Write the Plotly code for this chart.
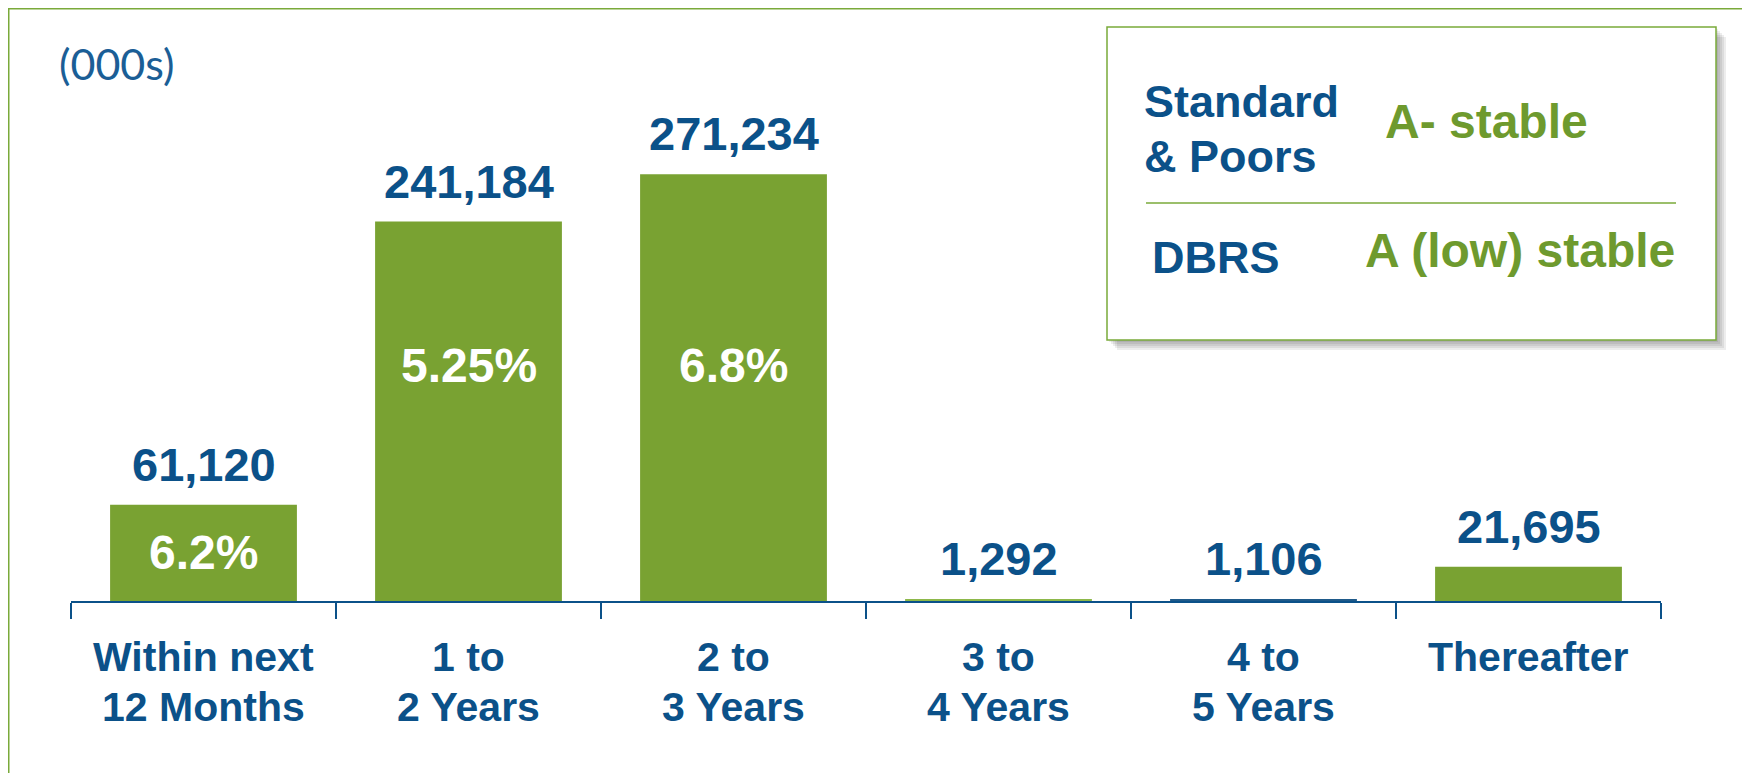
import plotly.graph_objects as go

# ---------------- data ----------------
categories = ["Within next<br>12 Months", "1 to<br>2 Years", "2 to<br>3 Years",
              "3 to<br>4 Years", "4 to<br>5 Years", "Thereafter"]
maturities = [61120, 241184, 271234, 1292, 1106, 21695]
rates = ["6.2%", "5.25%", "6.8%", "", "", ""]
unit_label = "(000s)"
agency_lines = [["Standard", "& Poors"], ["DBRS"]]
ratings = ["A- stable", "A (low) stable"]

# ---------------- style ----------------
BLUE = "#0B5189"
GREEN = "#79A232"
GREEN_TXT = "#6E9A2E"
BORDER = "#7AAA3A"
FONT = "Liberation Sans, Arial"
bar_colors = [GREEN, GREEN, GREEN, "#8DB84A", "#1F5A8A", GREEN]

OFF = 8  # page body margin
W, H = 1742, 765
L, R, T, B = 63, 89, 32, 172
PW = W - L - R
PH = H - T - B


def px(x):  # page pixel x -> paper
    return (x - OFF - L) / PW


def py(y):  # page pixel y -> paper
    return (H - B - (y - OFF)) / PH


fig = go.Figure()
fig.add_trace(go.Bar(
    x=categories, y=maturities, marker=dict(color=bar_colors, line=dict(width=0)),
    hoverinfo="skip", showlegend=False,
))

ann = []
# value labels above bars
for c, v in zip(categories, maturities):
    ann.append(dict(x=c, y=v, xref="x", yref="y", text=f"{v:,}", showarrow=False,
                    yanchor="bottom", yshift=12,
                    font=dict(family=FONT, size=47, color=BLUE, weight="bold")))
# rate labels inside bars
for c, v, r in zip(categories, maturities, rates):
    if r:
        ann.append(dict(x=c, y=(150000 if v > 150000 else v / 2), xref="x", yref="y", text=r,
                        showarrow=False, yanchor="middle",
                        font=dict(family=FONT, size=48, color="white", weight="bold")))
# category labels (two lines each) below the axis
for c in categories:
    for i, line in enumerate(c.split("<br>")):
        ann.append(dict(x=c, y=0, xref="x", yref="y", text=line, showarrow=False,
                        yanchor="middle", yshift=-56 - 50 * i,
                        font=dict(family=FONT, size=41, color=BLUE, weight="bold")))
# unit label
ann.append(dict(x=px(57), y=py(64), xref="paper", yref="paper", text=unit_label, showarrow=False,
                xanchor="left", yanchor="middle",
                font=dict(family="Lato, Open Sans", size=43, color="#1B5E96")))

# rating box texts
blue_pos = [[(1142, 101), (1142, 156)], [(1150, 258)]]
green_pos = [(1383, 122), (1363, 250)]
for lines, poss in zip(agency_lines, blue_pos):
    for t, (x, y) in zip(lines, poss):
        ann.append(dict(x=px(x), y=py(y), xref="paper", yref="paper", text=t, showarrow=False,
                        xanchor="left", yanchor="middle",
                        font=dict(family=FONT, size=45, color=BLUE, weight="bold")))
for t, (x, y) in zip(ratings, green_pos):
    ann.append(dict(x=px(x), y=py(y), xref="paper", yref="paper", text=t, showarrow=False,
                    xanchor="left", yanchor="middle",
                    font=dict(family=FONT, size=48, color=GREEN_TXT, weight="bold")))

shapes = []
# outer border
shapes.append(dict(type="rect", xref="paper", yref="paper", x0=px(8.75), x1=px(1746), y0=py(800), y1=py(8.75),
                   line=dict(color=BORDER, width=1.5), fillcolor="rgba(0,0,0,0)", layer="below"))
# box shadow
for off in [10, 8, 6, 4, 2]:
    shapes.append(dict(type="rect", xref="paper", yref="paper",
                       x0=px(1107 + off), x1=px(1716 + off), y0=py(340 + off), y1=py(27 + off),
                       line=dict(width=0), fillcolor="rgba(0,0,0,0.07)"))
shapes.append(dict(type="rect", xref="paper", yref="paper", x0=px(1107), x1=px(1716), y0=py(340), y1=py(27),
                   line=dict(color=BORDER, width=1.5), fillcolor="white"))
shapes.append(dict(type="line", xref="paper", yref="paper", x0=px(1146), x1=px(1676), y0=py(203), y1=py(203),
                   line=dict(color=BORDER, width=1.5)))

fig.update_layout(
    width=W, height=H, margin=dict(l=L, r=R, t=T, b=B),
    paper_bgcolor="white", plot_bgcolor="white",
    bargap=0.295, annotations=ann, shapes=shapes,
    xaxis=dict(type="category", range=[-0.5, 5.5], showline=True, linecolor=BLUE, linewidth=2,
               ticks="outside", tickson="boundaries", ticklen=16, tickwidth=2, tickcolor=BLUE,
               showticklabels=False, showgrid=False, zeroline=False, fixedrange=True),
    yaxis=dict(range=[0, 356600], visible=False, showgrid=False, zeroline=False, fixedrange=True),
)

fig.write_html("out.html")
